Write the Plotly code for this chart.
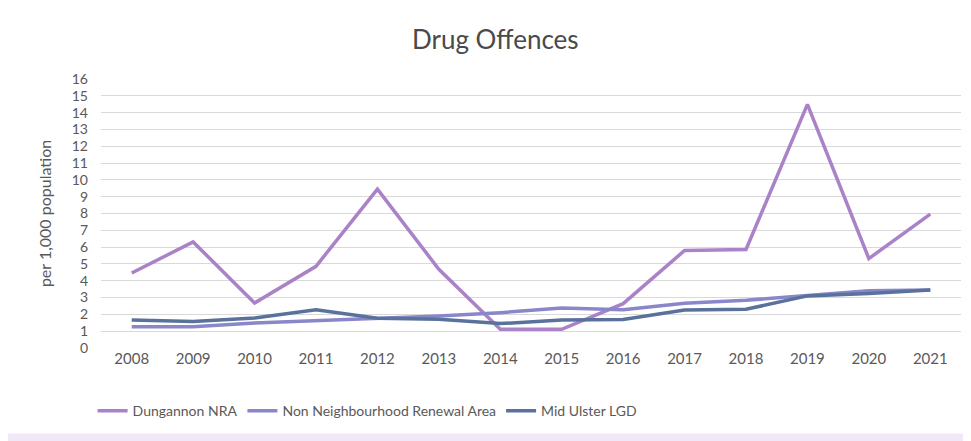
import plotly.graph_objects as go

years = ["2008", "2009", "2010", "2011", "2012", "2013", "2014",
         "2015", "2016", "2017", "2018", "2019", "2020", "2021"]
dungannon = [4.46, 6.31, 2.68, 4.86, 9.45, 4.68, 1.11, 1.11, 2.64, 5.80, 5.86, 14.49, 5.32, 7.96]
non_nra = [1.27, 1.27, 1.49, 1.61, 1.77, 1.90, 2.10, 2.38, 2.28, 2.66, 2.84, 3.12, 3.40, 3.45]
mid_ulster = [1.67, 1.57, 1.79, 2.28, 1.77, 1.71, 1.45, 1.67, 1.69, 2.26, 2.30, 3.10, 3.24, 3.45]

names = ["Dungannon NRA", "Non Neighbourhood Renewal Area", "Mid Ulster LGD"]
colors = ["#A982C7", "#8A86CA", "#59729B"]

fig = go.Figure()
for name, vals, col in zip(names, [dungannon, non_nra, mid_ulster], colors):
    fig.add_trace(go.Scatter(x=years, y=vals, name=name, mode="lines",
                             line=dict(color=col, width=3.5)))

# page has an 8px body margin, so the figure is sized to fit the window
fig.update_layout(
    width=963, height=433,
    paper_bgcolor="white", plot_bgcolor="white",
    font=dict(family="Lato", color="#595959", size=14),
    title=dict(text="Drug Offences", x=0.506, xanchor="center", y=0.926, yanchor="middle",
               font=dict(size=26, color="#4a4a4a", family="Lato")),
    margin=dict(l=93, r=10, t=71, b=93),
    legend=dict(orientation="h", x=0.31, xanchor="center", y=-0.235, yanchor="middle",
                font=dict(size=14, color="#595959", family="Lato"),
                tracegroupgap=0),
    shapes=[
        dict(type="rect", xref="paper", yref="paper", x0=-0.2, x1=1.05, y0=-0.36, y1=-0.318,
             line=dict(width=0), fillcolor="rgba(225,210,240,0.5)", layer="below"),
    ],
)
fig.update_xaxes(type="category", range=[-0.5, 13.5], showgrid=False, showline=False, ticks="",
                 tickfont=dict(size=15, color="#595959"), automargin=False)
fig.update_yaxes(range=[0, 16], dtick=1, showgrid=True, gridcolor="#D9D9D9", gridwidth=1.3,
                 zeroline=False, ticks="", ticklabelstandoff=12, tickfont=dict(size=14, color="#595959"),
                 automargin=False,
                 title=dict(text="per 1,000 population", font=dict(size=16, color="#595959"),
                            standoff=16))

fig.write_html("out.html")
